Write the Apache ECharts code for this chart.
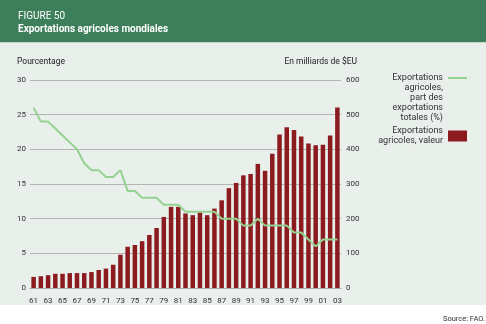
<!DOCTYPE html>
<html>
<head>
<meta charset="utf-8">
<script src="https://cdn.jsdelivr.net/npm/echarts@6/dist/echarts.min.js"></script>
<style>
html,body{margin:0;padding:0;background:#ffffff;}
#chart{width:486px;height:324px;}
</style>
</head>
<body>
<div id="chart"></div>
<script>
var years = ['61','62','63','64','65','66','67','68','69','70','71','72','73','74','75','76','77','78','79','80','81','82','83','84','85','86','87','88','89','90','91','92','93','94','95','96','97','98','99','00','01','02','03'];
var valueBillions = [32,34,37,41,41,43,43,43,46,52,56,67,96,119,124,135,153,173,205,234,234,215,210,218,210,229,253,288,303,325,329,358,338,387,443,464,456,437,417,412,413,440,521];
var sharePercent = [26,24,24,23,22,21,20,18,17,17,16,16,17,14,14,13,13,13,12,12,12,11,11,11,11,11,10,10,10,9,9,10,9,9,9,9,8,8,7,6,7,7,7];
var leftTicks = [0,5,10,15,20,25,30];
var rightTicks = [0,100,200,300,400,500,600];
var lineName = 'Exportations\nagricoles,\npart des\nexportations\ntotales (%)';
var barName = 'Exportations\nagricoles, valeur';

var FONT = 'Roboto';
var chart = echarts.init(document.getElementById('chart'), null, {renderer:'canvas'});
chart.setOption({
  animation: false,
  backgroundColor: '#ffffff',
  textStyle: {fontFamily: FONT},
  graphic: [
    {type:'rect', left:0, top:0, shape:{width:486, height:42}, style:{fill:'#3e7f5b'}, z:-10},
    {type:'rect', left:0, top:42, shape:{width:486, height:1}, style:{fill:'#c9d8cf'}, z:-10},
    {type:'rect', left:0, top:43, shape:{width:486, height:262}, style:{fill:'#e9efeb'}, z:-10},
    {type:'text', left:18, top:11, style:{text:'FIGURE 50', fill:'#ffffff', font:'10px '+FONT}},
    {type:'text', left:18, top:24, style:{text:'Exportations agricoles mondiales', fill:'#ffffff', font:'bold 10px '+FONT}},
    {type:'text', right:1, top:315, style:{text:'Source: FAO.', fill:'#333333', font:'7.5px '+FONT}}
  ],
  legend: {
    orient: 'vertical',
    align: 'right',
    right: 14,
    top: 28,
    itemWidth: 19,
    itemHeight: 11,
    itemGap: 3,
    textStyle: {fontSize: 9, color: '#333333', lineHeight: 10, fontFamily: FONT, align: 'right'},
    formatter: function (name) {
      return name === lineName ? '\n\n\n\n' + name : name;
    },
    data: [
      {name: lineName, icon: 'path://M0,0 L19,0 L19,2 L0,2 Z', itemStyle:{color:'#94d28f'}},
      {name: barName, icon: 'rect'}
    ]
  },
  grid: {left: 30, right: 145, top: 80, bottom: 36, containLabel: false},
  xAxis: {
    type: 'category',
    data: years,
    boundaryGap: true,
    axisLine: {show: true, lineStyle: {color: '#aaaaaa', width: 1}},
    axisTick: {show: false},
    axisLabel: {interval: 1, color: '#333333', fontSize: 8, margin: 9, fontFamily: FONT},
    splitLine: {show: false}
  },
  yAxis: [
    {
      type: 'value', min: 0, max: 30, interval: 5, position: 'left',
      name: 'Pourcentage', nameLocation: 'end', nameGap: 14,
      nameTextStyle: {align: 'left', padding: [0,0,0,-13], color: '#222222', fontSize: 8.5, fontFamily: FONT},
      axisLine: {show: false}, axisTick: {show: false},
      axisLabel: {color: '#333333', fontSize: 8, margin: 4, fontFamily: FONT},
      splitLine: {show: true, lineStyle: {color: '#b4b4b4', width: 1}}
    },
    {
      type: 'value', min: 0, max: 600, interval: 100, position: 'right',
      name: 'En milliards de $EU', nameLocation: 'end', nameGap: 14,
      nameTextStyle: {align: 'right', padding: [0,-16,0,0], color: '#222222', fontSize: 8.5, fontFamily: FONT},
      axisLine: {show: false}, axisTick: {show: false},
      axisLabel: {color: '#333333', fontSize: 8, margin: 5, fontFamily: FONT},
      splitLine: {show: false}
    }
  ],
  series: [
    {
      name: barName, type: 'bar', yAxisIndex: 1, data: valueBillions,
      barWidth: 4.5, itemStyle: {color: '#8c1b20'}, z: 2
    },
    {
      name: lineName, type: 'line', yAxisIndex: 0, data: sharePercent,
      symbol: 'none', lineStyle: {color: '#94d28f', width: 2}, itemStyle:{color:'#94d28f'}, z: 3
    }
  ]
});
</script>
</body>
</html>
